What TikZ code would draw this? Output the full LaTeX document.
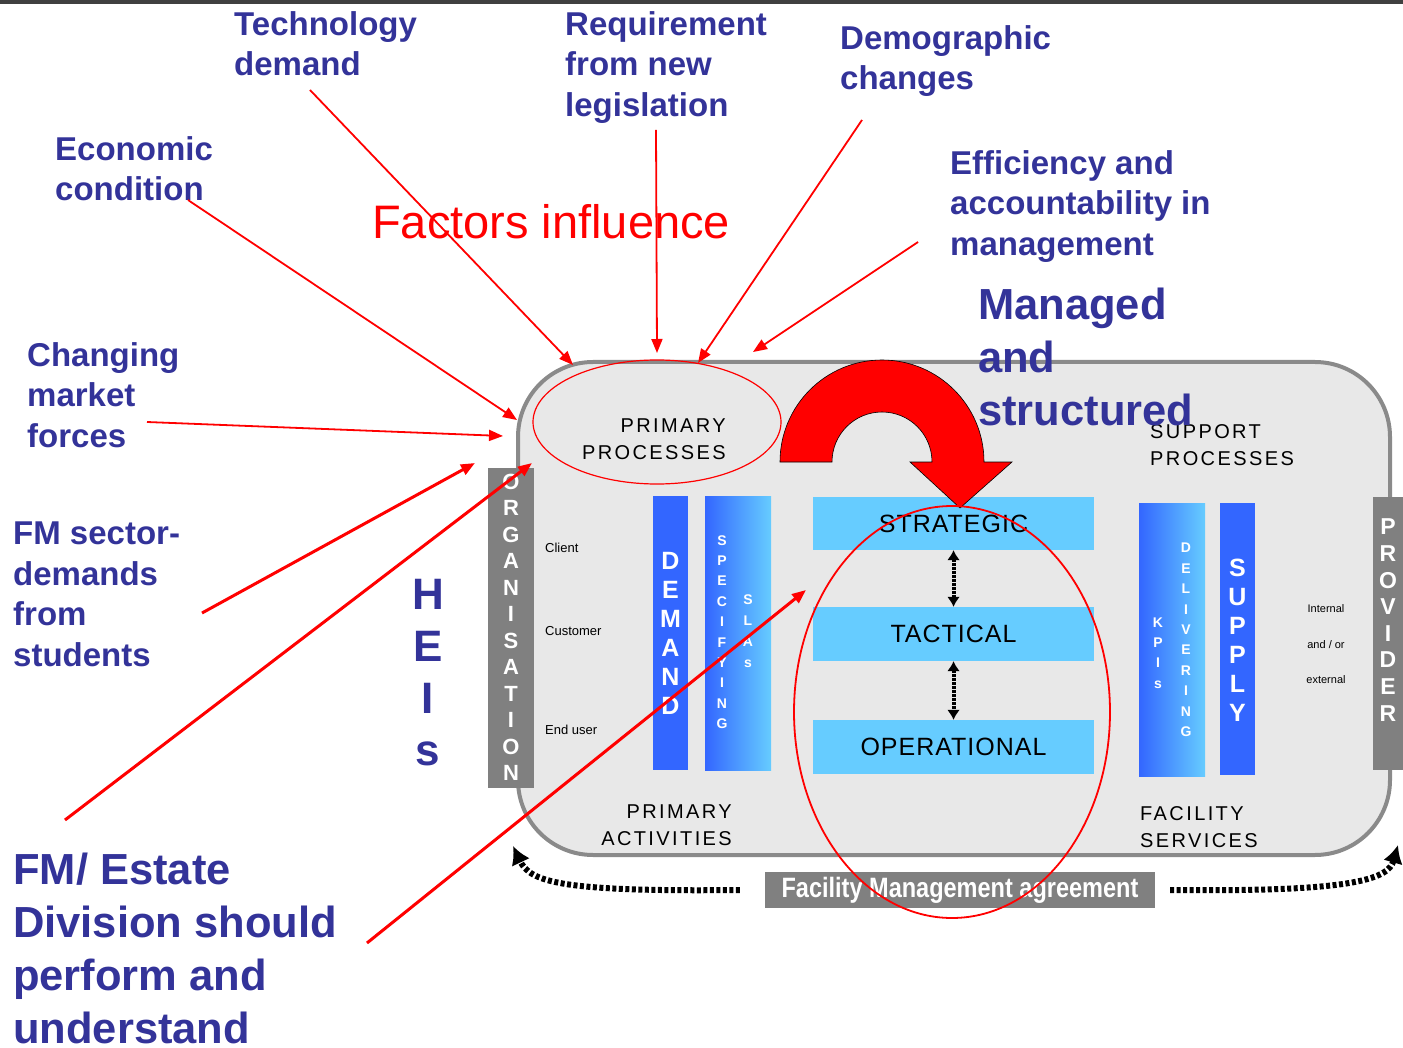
\documentclass[tikz,border=0pt]{standalone}
\usepackage{fontspec}
\setmainfont{Liberation Sans}
\newfontfamily\spacedfont[LetterSpace=12]{Liberation Sans}
\newfontfamily\tierfont[LetterSpace=4]{Liberation Sans}
\newfontfamily\narrowfont[FakeStretch=0.84]{Liberation Sans}
\usetikzlibrary{arrows.meta}

\definecolor{heiblue}{RGB}{51,51,153}
\definecolor{barblue}{RGB}{51,102,255}
\definecolor{lightbar}{RGB}{102,204,255}
\definecolor{panelgray}{RGB}{232,232,232}
\definecolor{framegray}{RGB}{138,138,138}
\definecolor{tabgray}{RGB}{128,128,128}

\tikzset{
  factor/.style={text=heiblue, font=\bfseries\fontsize{33}{40.5}\selectfont, align=left, anchor=north west, inner sep=0pt},
  bigfactor/.style={text=heiblue, font=\bfseries\fontsize{43.5}{53}\selectfont, align=left, anchor=north west, inner sep=0pt},
  redarrow/.style={red, line width=1.8pt, -{Triangle[length=14pt,width=11pt]}},
  tab/.style={fill=tabgray, inner sep=0pt},
  bar/.style={fill=barblue, inner sep=0pt},
  tier/.style={fill=lightbar, inner sep=0pt, minimum width=281pt, minimum height=54pt, font=\tierfont\fontsize{25}{30}\selectfont},
  stack/.style={text=white, align=center, inner sep=0pt},
  caption/.style={font=\spacedfont\fontsize{20}{27}\selectfont, inner sep=0pt},
  role/.style={font=\fontsize{13}{15}\selectfont, anchor=west, inner sep=0pt},
  tierlink/.style={line width=4pt, dash pattern=on 2.5pt off 1.5pt, {Latex[length=10pt,width=13pt]}-{Latex[length=10pt,width=13pt]}},
  agreelink/.style={line width=6pt, dash pattern=on 4pt off 2.5pt, -{Latex[length=18pt,width=20pt]}}
}

\begin{document}
\begin{tikzpicture}[x=1pt,y=-1pt]
\useasboundingbox (0,0) rectangle (1403,1048);
\fill[black!75] (0,0) rectangle (1403,4);

% the HEI frame
\draw[framegray, line width=4pt, fill=panelgray, rounded corners=75pt] (518,362) rectangle (1390,855);

% side tabs
\node[tab, minimum width=46pt, minimum height=320pt] (orgtab) at (511,628) {};
\node[stack, font=\bfseries\fontsize{22}{26.5}\selectfont] (org) at (511,627.5) {O\\R\\G\\A\\N\\I\\S\\A\\T\\I\\O\\N};
\node[tab, minimum width=46pt, minimum height=273pt] (provtab) at (1396,633.5) {};
\node[stack, font=\bfseries\fontsize{23}{26.6}\selectfont] (prov) at (1388,620) {P\\R\\O\\V\\I\\D\\E\\R};

% demand side
\node[role] (client) at (545,548) {Client};
\node[role] (customer) at (545,631) {Customer};
\node[role] (enduser) at (545,730) {End user};
\node[bar, minimum width=35pt, minimum height=274pt] (demandbar) at (670.5,633) {};
\node[stack, font=\bfseries\fontsize{25}{29}\selectfont] (demand) at (670.5,633.5) {D\\E\\M\\A\\N\\D};
\shade[left color=barblue, right color=lightbar] (705,496) rectangle (771,770);
\node[stack, font=\bfseries\fontsize{14}{20.4}\selectfont] (specifying) at (722,632) {S\\P\\E\\C\\I\\F\\Y\\I\\N\\G};
\node[stack, font=\bfseries\fontsize{14}{21}\selectfont] (slas) at (748,631.5) {S\\L\\A\\s};

% supply side
\shade[left color=barblue, right color=lightbar] (1139,503) rectangle (1205,776);
\node[stack, font=\bfseries\fontsize{14}{20.3}\selectfont] (kpis) at (1158,653) {K\\P\\I\\s};
\node[stack, font=\bfseries\fontsize{14}{20.4}\selectfont] (delivering) at (1186,640) {D\\E\\L\\I\\V\\E\\R\\I\\N\\G};
\node[bar, minimum width=35pt, minimum height=272pt] (supplybar) at (1237.5,639) {};
\node[stack, font=\bfseries\fontsize{25}{29}\selectfont] (supply) at (1237.5,640.5) {S\\U\\P\\P\\L\\Y};
\node[align=center, font=\fontsize{11}{35.5}\selectfont, inner sep=0pt] (inex) at (1326,644.5) {Internal\\and / or\\external};

% levels
\node[tier, minimum height=53pt] (strategic) at (953.5,523.5) {STRATEGIC};
\node[tier] (tactical) at (953.5,634) {TACTICAL};
\node[tier] (operational) at (953.5,747) {OPERATIONAL};
\draw[tierlink] (strategic.south) -- (tactical.north);
\draw[tierlink] (tactical.south) -- (operational.north);

% captions
\node[caption, align=right, anchor=north east] (primproc) at (726,419) {PRIMARY\\PROCESSES};
\node[caption, align=left, anchor=north west] (suppproc) at (1150,424) {SUPPORT\\PROCESSES};
\node[caption, align=right, anchor=north east] (primact) at (732,805) {PRIMARY\\ACTIVITIES};
\node[caption, align=left, anchor=north west] (facserv) at (1140,806) {FACILITY\\SERVICES};

% agreement
\node[tab, minimum width=390pt, minimum height=36pt, text=white, font=\narrowfont\bfseries\fontsize{28}{30}\selectfont] (agree) at (960,890) {Facility Management agreement};
\coordinate (leftend) at (513,846);
\coordinate (rightend) at (1398,845);
\draw[agreelink] (agree.west) ++(-25,0) .. controls (560,892) and (530,882) .. (leftend);
\draw[agreelink] (agree.east) ++(15,0) .. controls (1350,892) and (1388,880) .. (rightend);

% curved red arrow
\filldraw[fill=red, draw=black, line width=0.6pt] (780,462) arc[start angle=180, end angle=360, radius=102] -- (1012,462) -- (960,508) -- (910,462) -- (932,462) arc[start angle=0, end angle=-180, radius=50] -- cycle;

% red rings
\draw[red, line width=1.2pt] (657,422) ellipse (124 and 62);
\draw[red, line width=1.8pt] (952,712) ellipse (158 and 206);

% factors
\node[factor] (tech) at (234,11) {Technology\\demand};
\node[factor] (legis) at (565,11) {Requirement\\from new\\legislation};
\node[factor] (demo) at (840,25) {Demographic\\changes};
\node[factor] (econ) at (55,136) {Economic\\condition};
\node[factor] (effic) at (950,150) {Efficiency and\\accountability in\\management};
\node[factor] (market) at (27,342) {Changing\\market\\forces};
\node[factor] (sector) at (13,522) {FM sector-\\demands\\from\\students};
\node[bigfactor] (estate) at (13,853) {FM/ Estate\\Division should\\perform and\\understand};
\node[bigfactor, anchor=north west] (managed) at (978,288) {Managed\\and\\structured};
\node[text=red, font=\fontsize{47}{50}\selectfont, anchor=west, inner sep=0pt] (influence) at (372,222) {Factors influence};
\node[stack, text=heiblue, font=\bfseries\fontsize{44}{52}\selectfont] (heis) at (428,673) {H\\E\\I\\s};

% draw the arrows
\coordinate (techfrom) at (310,90);     \coordinate (techto) at (573,365);
\coordinate (legisfrom) at (656,130);   \coordinate (legisto) at (657,353);
\coordinate (demofrom) at (862,120);    \coordinate (demoto) at (698,363);
\coordinate (efficfrom) at (918,242);   \coordinate (efficto) at (753,352);
\coordinate (econfrom) at (188,200);    \coordinate (econto) at (517,420);
\coordinate (marketfrom) at (147,422);  \coordinate (marketto) at (503,436);
\coordinate (sectorfrom) at (202,613);  \coordinate (sectorto) at (475,463);
\coordinate (estatefrom) at (65,820);   \coordinate (estateto) at (532,463);
\coordinate (performfrom) at (367,943); \coordinate (performto) at (806,590);
\draw[redarrow] (techfrom) -- (techto);
\draw[redarrow] (legisfrom) -- (legisto);
\draw[redarrow] (demofrom) -- (demoto);
\draw[redarrow] (efficfrom) -- (efficto);
\draw[redarrow] (econfrom) -- (econto);
\draw[redarrow] (marketfrom) -- (marketto);
\draw[redarrow, line width=3pt] (sectorfrom) -- (sectorto);
\draw[redarrow, line width=3pt] (estatefrom) -- (estateto);
\draw[redarrow, line width=3pt] (performfrom) -- (performto);

\end{tikzpicture}
\end{document}
